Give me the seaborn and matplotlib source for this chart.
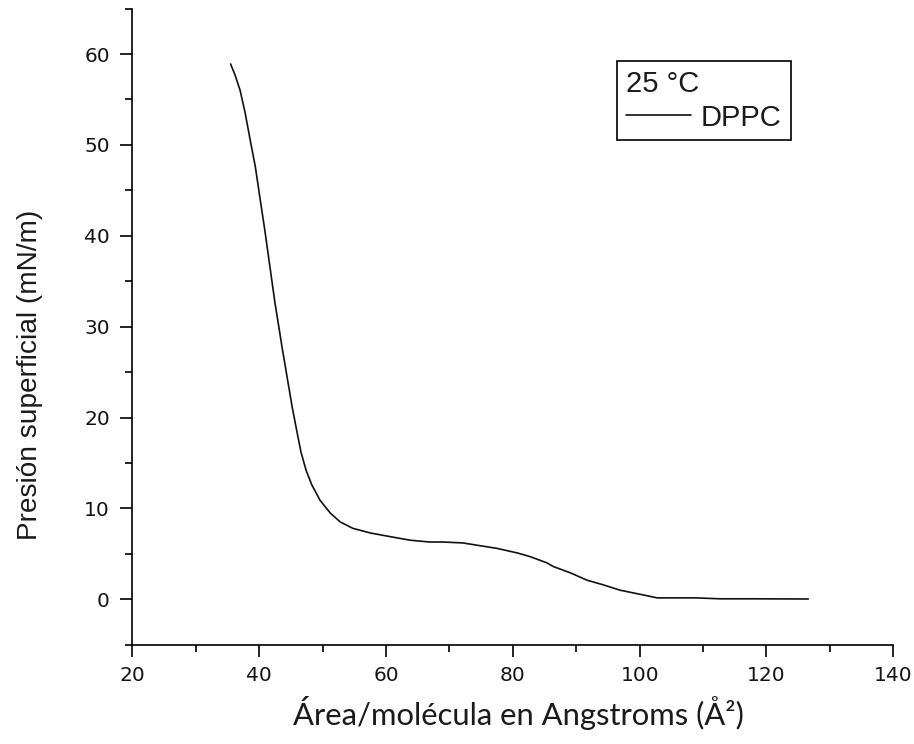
import matplotlib
matplotlib.use("Agg")
import numpy as np
import pandas as pd
import seaborn as sns
import matplotlib.pyplot as plt
from matplotlib.ticker import MultipleLocator

area = [35.5, 36.2, 37.0, 37.8, 38.6, 39.4, 40.1, 40.9, 41.7, 42.5, 43.1, 43.6,
        44.4, 45.2, 46.0, 46.6, 47.4, 48.3, 49.6, 51.2, 52.8, 54.8, 57.5, 60.6, 63.8,
        66.9, 69.0, 72.1, 74.8, 77.5, 80.7, 82.7, 85.4, 86.4, 89.1, 91.7, 94.2,
        96.9, 100.4, 102.8, 109.0, 112.7, 117.9, 126.6]
pressure = [58.9, 57.7, 56.0, 53.5, 50.5, 47.6, 44.3, 40.6, 36.6, 32.6, 30.0, 27.8,
            24.5, 21.2, 18.3, 16.2, 14.2, 12.6, 10.9, 9.5, 8.5, 7.8, 7.3, 6.9, 6.5,
            6.3, 6.3, 6.2, 5.9, 5.6, 5.1, 4.7, 4.0, 3.6, 2.9, 2.1, 1.6,
            1.0, 0.5, 0.15, 0.15, 0.05, 0.05, 0.03]
series_label = "DPPC"
legend_title = "25 °C"
x_label = "Área/molécula en Angstroms (Å²)"
y_label = "Presión superficial (mN/m)"

sns.set_theme(style="ticks")
plt.rcParams["font.family"] = ["DejaVu Sans"]

fig = plt.figure(figsize=(9.14, 7.44), dpi=100)
ax = fig.add_axes([0.14475, 0.13347, 0.8326, 0.85497])

df = pd.DataFrame({"area": area, "pressure": pressure})
sns.lineplot(data=df, x="area", y="pressure", color="#111111", linewidth=1.2,
             estimator=None, sort=False, ax=ax, label=series_label)

ax.set_xlim(20, 140)
ax.set_ylim(-5, 65)
ax.xaxis.set_major_locator(MultipleLocator(20))
ax.xaxis.set_minor_locator(MultipleLocator(10))
ax.yaxis.set_major_locator(MultipleLocator(10))
ax.yaxis.set_minor_locator(MultipleLocator(5))

sns.despine(ax=ax)
for s in ("left", "bottom"):
    ax.spines[s].set_color("black")
    ax.spines[s].set_linewidth(1.2)

ax.tick_params(which="major", direction="out", length=8.6, width=1.2,
               color="black", labelsize=14.5, labelcolor="#141414")
ax.tick_params(axis="y", which="major", pad=7.5)
ax.tick_params(axis="x", which="major", pad=6.5)
ax.tick_params(which="minor", direction="out", length=4.7, width=1.2, color="black")

xl = ax.set_xlabel(x_label, fontfamily="Lato", fontsize=20, color="#1a1a1a", va="top")
yl = ax.set_ylabel(y_label, fontfamily="Liberation Sans", fontsize=20.2, color="#1a1a1a", va="center")

fig.canvas.draw()
r = fig.canvas.get_renderer()
w = xl.get_window_extent(r).width
xl.set_fontsize(20 * 452.0 / w)

ax.xaxis.set_label_coords(0.508, -0.0806)
ax.yaxis.set_label_coords(-0.135, (644.7 - 375) / 636.1)

leg = ax.legend(title=legend_title, loc="upper left", bbox_to_anchor=(0.637, 0.9176),
                borderaxespad=0, frameon=True, fancybox=False, edgecolor="black",
                framealpha=1,
                prop={"family": "Liberation Sans", "size": 21},
                title_fontproperties={"family": "Liberation Sans", "size": 21},
                handlelength=2.25, handletextpad=0.33, borderpad=0.3, labelspacing=0.2)
leg._legend_box.align = "left"
leg.get_frame().set_linewidth(1.2)
for t in leg.get_texts():
    t.set_color("#1a1a1a")
leg.get_title().set_color("#1a1a1a")

fig.savefig("out.png", dpi=100)
